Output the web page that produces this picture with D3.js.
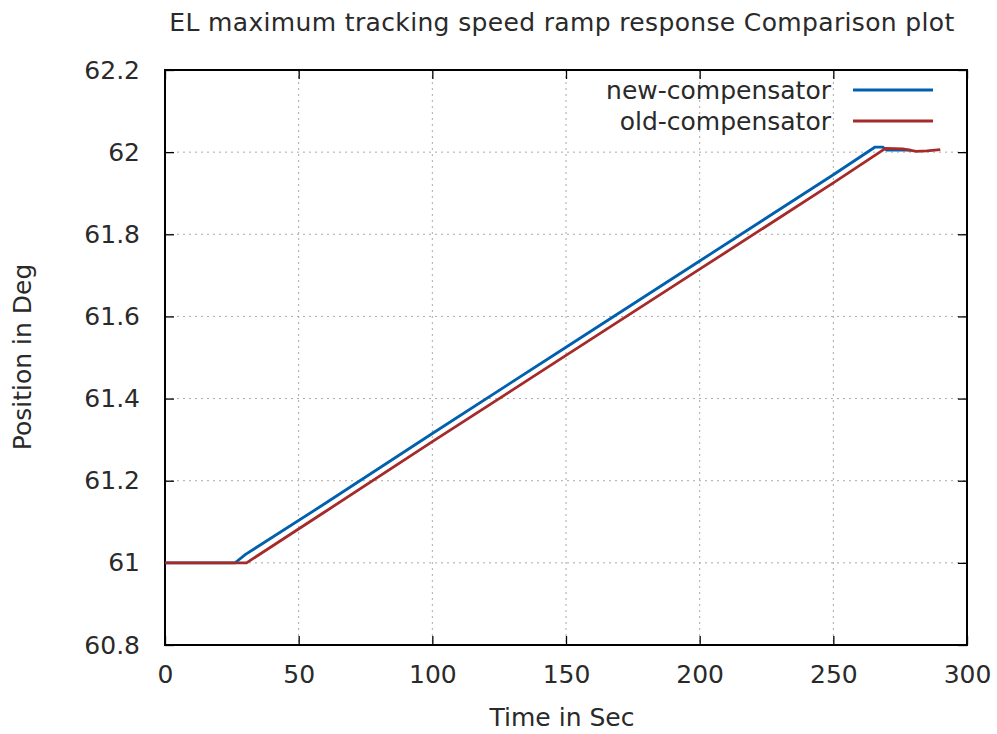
<!DOCTYPE html>
<html lang="en">
<head>
  <meta charset="UTF-8">
  <script src="https://cdn.jsdelivr.net/npm/d3@7/dist/d3.min.js"></script>
  <title>EL ramp response</title>
  <style>
    body { margin: 0; background: #fff; }
    svg text { font-family: "DejaVu Sans", sans-serif; fill: #2a2a2a; }
    .grid line { stroke: #aaa; stroke-dasharray: 2,4; stroke-width: 1; }
  </style>
</head>
<body>
  <div id="chart"></div>
  <script>
    // ---------------- data ----------------
    const titleText = "EL maximum tracking speed ramp response Comparison plot";
    const xTicks = [0, 50, 100, 150, 200, 250, 300];
    const yTicks = [60.8, 61, 61.2, 61.4, 61.6, 61.8, 62, 62.2];
    const seriesNames = ["new-compensator", "old-compensator"];
    const seriesColors = ["#0060ad", "#a52a2a"];

    // new-compensator : [time, position]
    const newTime = [0, 26.2, 30, 60, 100, 150, 200, 250, 265.5, 268.5, 270, 279];
    const newPos  = [61.0, 61.0, 61.02, 61.145, 61.315, 61.525, 61.735, 61.945, 62.012, 62.012, 62.005, 62.005];
    // old-compensator
    const oldTime = [0, 30.5, 60, 100, 150, 200, 250, 269.5, 276, 281, 285, 290];
    const oldPos  = [61.0, 61.0, 61.125, 61.295, 61.505, 61.715, 61.925, 62.009, 62.008, 62.002, 62.003, 62.006];

    // ---------------- layout ----------------
    const W = 997, H = 734;
    const m = { left: 165, right: 30, top: 70, bottom: 89 };
    const iw = W - m.left - m.right, ih = H - m.top - m.bottom;
    const fs = "25px";

    const svg = d3.select("#chart").append("svg")
      .attr("width", W).attr("height", H);

    const x = d3.scaleLinear().domain([0, 300]).range([0, iw]);
    const y = d3.scaleLinear().domain([60.8, 62.2]).range([ih, 0]);

    const g = svg.append("g").attr("transform", `translate(${m.left},${m.top})`);

    // grid
    const grid = g.append("g").attr("class", "grid");
    grid.selectAll(".gx").data(xTicks.slice(1, -1)).enter().append("line")
      .attr("x1", d => x(d)).attr("x2", d => x(d)).attr("y1", 0).attr("y2", ih);
    grid.selectAll(".gy").data(yTicks.slice(1, -1)).enter().append("line")
      .attr("y1", d => y(d)).attr("y2", d => y(d)).attr("x1", 0).attr("x2", iw);

    // axes, ticks inward and mirrored
    const tl = 9;
    const fmtY = d => d3.format("~g")(+d.toFixed(1));
    g.append("g").attr("transform", `translate(0,${ih})`)
      .call(d3.axisBottom(x).tickValues(xTicks).tickSize(-tl).tickPadding(20))
      .call(a => a.selectAll("text").style("font-size", fs));
    g.append("g")
      .call(d3.axisTop(x).tickValues(xTicks).tickSize(-tl).tickFormat(""));
    g.append("g")
      .call(d3.axisLeft(y).tickValues(yTicks).tickSize(-tl).tickPadding(25).tickFormat(fmtY))
      .call(a => a.selectAll("text").style("font-size", fs));
    g.append("g").attr("transform", `translate(${iw},0)`)
      .call(d3.axisRight(y).tickValues(yTicks).tickSize(-tl).tickFormat(""));
    g.selectAll(".domain").attr("stroke", "none");
    g.selectAll(".tick line").attr("stroke", "#000").attr("stroke-width", 1.3);
    g.append("rect").attr("width", iw).attr("height", ih)
      .attr("fill", "none").attr("stroke", "#000").attr("stroke-width", 2);

    // lines
    const line = d3.line().x(d => x(d[0])).y(d => y(d[1]));
    const series = [
      d3.zip(newTime, newPos),
      d3.zip(oldTime, oldPos)
    ];
    g.selectAll(".series").data(series).enter().append("path")
      .attr("d", line)
      .attr("fill", "none")
      .attr("stroke", (d, i) => seriesColors[i])
      .attr("stroke-width", 2.8);

    // legend
    const leg = g.selectAll(".leg").data(seriesNames).enter().append("g")
      .attr("transform", (d, i) => `translate(0,${20 + i * 31})`);
    leg.append("text").attr("x", 666).attr("dy", "0.35em")
      .attr("text-anchor", "end").style("font-size", fs).text(d => d);
    leg.append("line").attr("x1", 688).attr("x2", 768)
      .attr("stroke", (d, i) => seriesColors[i]).attr("stroke-width", 2.8);

    // title and axis labels
    svg.append("text").attr("x", 562).attr("y", 31).attr("text-anchor", "middle")
      .style("font-size", fs).style("letter-spacing", "0.35px").text(titleText);
    svg.append("text").attr("x", 562).attr("y", 726).attr("text-anchor", "middle")
      .style("font-size", fs).text("Time in Sec");
    svg.append("text").attr("transform", "translate(31,357) rotate(-90)")
      .attr("text-anchor", "middle").style("font-size", fs).text("Position in Deg");
  </script>
</body>
</html>
